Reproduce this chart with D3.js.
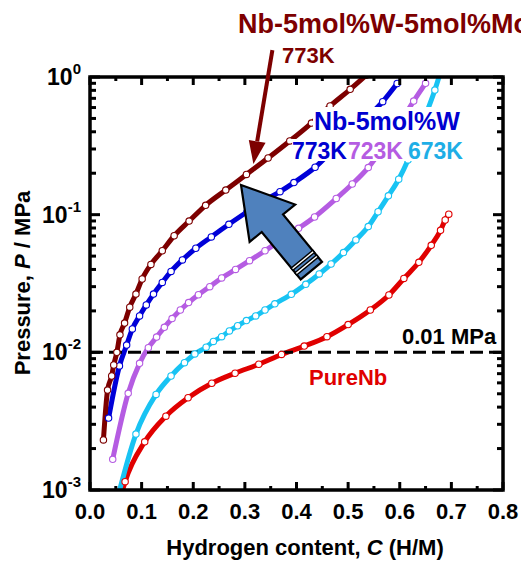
<!DOCTYPE html>
<html><head><meta charset="utf-8">
<script src="https://cdn.jsdelivr.net/npm/d3@7"></script>
<style>body{margin:0;background:#fff}svg{display:block}</style>
</head><body><svg id="chart" width="521" height="561"></svg>
<script>
// ---------- data ----------
const xTickValues = [0, 0.1, 0.2, 0.3, 0.4, 0.5, 0.6, 0.7, 0.8];
const xTickLabels = ["0.0", "0.1", "0.2", "0.3", "0.4", "0.5", "0.6", "0.7", "0.8"];
const yTickValues = [0.001, 0.01, 0.1, 1];
const yTickExponents = ["-3", "-2", "-1", "0"];

// Nb-5mol%W-5mol%Mo, 773K
const nbWMo773C = [0.026, 0.034, 0.042, 0.046, 0.052, 0.058, 0.067, 0.077, 0.089, 0.101, 0.118, 0.140, 0.163, 0.192, 0.224, 0.263, 0.303, 0.345, 0.387, 0.429, 0.465, 0.504, 0.535];
const nbWMo773P = [0.00231, 0.00532, 0.00673, 0.00809, 0.0100, 0.0134, 0.0163, 0.0213, 0.0265, 0.0341, 0.0435, 0.0547, 0.0703, 0.0899, 0.117, 0.151, 0.196, 0.258, 0.343, 0.463, 0.616, 0.814, 1.03];
// Nb-5mol%W, 773K
const nbW773C = [0.036, 0.057, 0.071, 0.082, 0.096, 0.109, 0.123, 0.140, 0.157, 0.179, 0.205, 0.235, 0.269, 0.304, 0.337, 0.368, 0.395, 0.436, 0.478, 0.523, 0.567, 0.595];
const nbW773P = [0.00333, 0.00796, 0.0113, 0.0148, 0.0184, 0.0221, 0.0265, 0.0322, 0.0387, 0.0469, 0.0570, 0.0689, 0.0851, 0.1045, 0.126, 0.147, 0.171, 0.221, 0.315, 0.456, 0.662, 0.897];
// Nb-5mol%W, 723K
const nbW723C = [0.044, 0.074, 0.096, 0.113, 0.129, 0.144, 0.159, 0.175, 0.191, 0.210, 0.232, 0.255, 0.282, 0.309, 0.339, 0.370, 0.404, 0.435, 0.477, 0.508, 0.539, 0.570, 0.599, 0.627, 0.650];
const nbW723P = [0.00167, 0.00504, 0.00832, 0.0108, 0.0129, 0.0152, 0.0176, 0.0203, 0.0230, 0.0262, 0.0300, 0.0347, 0.0400, 0.0463, 0.0547, 0.0655, 0.0796, 0.0962, 0.131, 0.167, 0.220, 0.315, 0.456, 0.669, 0.900];
// Nb-5mol%W, 673K
const nbW673C = [0.050, 0.089, 0.128, 0.157, 0.183, 0.203, 0.225, 0.239, 0.255, 0.270, 0.286, 0.303, 0.321, 0.339, 0.358, 0.390, 0.418, 0.444, 0.467, 0.491, 0.515, 0.539, 0.558, 0.578, 0.598, 0.616, 0.633, 0.651, 0.668, 0.680];
const nbW673P = [0.00078, 0.00255, 0.00495, 0.00673, 0.00841, 0.00973, 0.0109, 0.0120, 0.0130, 0.0143, 0.0156, 0.0170, 0.0184, 0.0203, 0.0225, 0.0264, 0.0312, 0.0371, 0.0438, 0.0530, 0.0655, 0.0820, 0.105, 0.137, 0.181, 0.250, 0.360, 0.538, 0.804, 1.12];
// Pure Nb
const pureNbC = [0.058, 0.068, 0.106, 0.147, 0.190, 0.236, 0.281, 0.327, 0.371, 0.415, 0.459, 0.500, 0.543, 0.579, 0.608, 0.637, 0.661, 0.679, 0.688, 0.695];
const pureNbP = [0.00085, 0.00115, 0.00224, 0.00344, 0.00468, 0.00596, 0.00705, 0.00819, 0.00965, 0.0111, 0.0130, 0.0159, 0.0203, 0.0261, 0.0344, 0.0451, 0.0599, 0.0770, 0.0915, 0.1008];

const seriesColors = ["#e00000", "#18c3f3", "#b55ce2", "#0000d8", "#7d0000"];
const series = [
  {c: pureNbC, p: pureNbP, color: seriesColors[0]},
  {c: nbW673C, p: nbW673P, color: seriesColors[1]},
  {c: nbW723C, p: nbW723P, color: seriesColors[2]},
  {c: nbW773C, p: nbW773P, color: seriesColors[3]},
  {c: nbWMo773C, p: nbWMo773P, color: seriesColors[4]}
];
const refPressure = 0.01;

// ---------- chart ----------
const font = "'Liberation Sans', Arial, Helvetica, sans-serif";
const svg = d3.select("#chart").style("font-family", font);
const L = 90, R = 503, T = 77, B = 490;
const x = d3.scaleLinear().domain([0, 0.8]).range([L, R]);
const y = d3.scaleLog().domain([0.001, 1]).range([B, T]);

svg.append("defs").append("clipPath").attr("id", "plotclip")
  .append("rect").attr("x", L).attr("y", T).attr("width", R - L).attr("height", B - T);

const plot = svg.append("g").attr("clip-path", "url(#plotclip)");

const line = d3.line().x(d => x(d[0])).y(d => y(d[1])).curve(d3.curveMonotoneX);

// curve lines
series.forEach(s => {
  const pts = s.c.map((c, i) => [c, s.p[i]]);
  plot.append("path").datum(pts).attr("d", line)
    .attr("fill", "none").attr("stroke", s.color).attr("stroke-width", 5)
    .attr("stroke-linejoin", "round").attr("stroke-linecap", "round");
});

// reference dashed line
plot.append("line").attr("x1", L).attr("x2", R).attr("y1", y(refPressure)).attr("y2", y(refPressure))
  .attr("stroke", "#000").attr("stroke-width", 3).attr("stroke-dasharray", "13,6");

// markers
series.forEach(s => {
  plot.append("g").selectAll("circle").data(s.c.map((c, i) => [c, s.p[i]])).join("circle")
    .attr("cx", d => x(d[0])).attr("cy", d => y(d[1])).attr("r", 3.2)
    .attr("fill", "#fff").attr("stroke", s.color).attr("stroke-width", 1.1);
});

// white label backgrounds
svg.append("rect").attr("x", 313).attr("y", 107).attr("width", 151).attr("height", 36).attr("fill", "#fff");
svg.append("rect").attr("x", 292).attr("y", 139).attr("width", 172).attr("height", 22).attr("fill", "#fff");

// ticks
const tickG = svg.append("g").attr("stroke", "#000").attr("stroke-width", 3);
const xMinor = d3.range(0.05, 0.8, 0.1);
xTickValues.forEach(v => {
  tickG.append("line").attr("x1", x(v)).attr("x2", x(v)).attr("y1", B).attr("y2", B - 8);
  tickG.append("line").attr("x1", x(v)).attr("x2", x(v)).attr("y1", T).attr("y2", T + 8);
});
xMinor.forEach(v => {
  tickG.append("line").attr("x1", x(v)).attr("x2", x(v)).attr("y1", B).attr("y2", B - 4);
  tickG.append("line").attr("x1", x(v)).attr("x2", x(v)).attr("y1", T).attr("y2", T + 4);
});
yTickValues.forEach(v => {
  tickG.append("line").attr("x1", L).attr("x2", L + 10).attr("y1", y(v)).attr("y2", y(v));
  tickG.append("line").attr("x1", R).attr("x2", R - 10).attr("y1", y(v)).attr("y2", y(v));
});
[0.001, 0.01, 0.1].forEach(dec => {
  for (let k = 2; k <= 9; k++) {
    const v = dec * k;
    tickG.append("line").attr("x1", L).attr("x2", L + 6).attr("y1", y(v)).attr("y2", y(v));
    tickG.append("line").attr("x1", R).attr("x2", R - 6).attr("y1", y(v)).attr("y2", y(v));
  }
});

// frame
svg.append("rect").attr("x", L).attr("y", T).attr("width", R - L).attr("height", B - T)
  .attr("fill", "none").attr("stroke", "#000").attr("stroke-width", 3.5);

// tick labels
svg.append("g").selectAll("text").data(xTickValues).join("text")
  .attr("x", d => x(d)).attr("y", 519).attr("text-anchor", "middle")
  .attr("font-size", 22).attr("font-weight", "bold").text((d, i) => xTickLabels[i]);

yTickValues.forEach((v, i) => {
  const t = svg.append("text").attr("x", 81).attr("y", y(v) + 8).attr("text-anchor", "end")
    .attr("font-size", 23).attr("font-weight", "bold");
  t.append("tspan").text("10");
  t.append("tspan").attr("dy", -11).attr("font-size", 15).text(yTickExponents[i]);
});

// axis titles
const xt = svg.append("text").attr("x", 305).attr("y", 555).attr("text-anchor", "middle")
  .attr("font-size", 22).attr("font-weight", "bold");
xt.append("tspan").text("Hydrogen content, ");
xt.append("tspan").attr("font-style", "italic").text("C");
xt.append("tspan").text(" (H/M)");

const yt = svg.append("text").attr("transform", "translate(30,283) rotate(-90)").attr("text-anchor", "middle")
  .attr("font-size", 22).attr("font-weight", "bold");
yt.append("tspan").text("Pressure, ");
yt.append("tspan").attr("font-style", "italic").text("P");
yt.append("tspan").text(" / MPa");

// labels
function label(txt, xx, yy, size, color) {
  svg.append("text").attr("x", xx).attr("y", yy).attr("font-size", size)
    .attr("font-weight", "bold").attr("fill", color).text(txt);
}
label("Nb-5mol%W-5mol%Mo", 238, 33, 27, "#7d0000");
label("773K", 282, 62.5, 22, "#7d0000");
label("Nb-5mol%W", 314, 130, 25, "#0000d0");
label("773K", 292, 159, 23, "#0000d0");
label("723K", 348, 159, 23, "#b55ce2");
label("673K", 408, 159, 23, "#1eaee6");
label("0.01 MPa", 402, 343.5, 22, "#000");
label("PureNb", 309, 384.5, 22, "#e00000");

// dark red pointer arrow (pixel offsets from data-anchored tip)
const redTip = [x(0.3165), y(0.233)];
const redStart = [redTip[0] + 19, redTip[1] - 114];
const ang = Math.atan2(redTip[1] - redStart[1], redTip[0] - redStart[0]);
const headLen = 23, headHalf = 8.5;
const baseP = [redTip[0] - headLen * Math.cos(ang), redTip[1] - headLen * Math.sin(ang)];
svg.append("line").attr("x1", redStart[0]).attr("y1", redStart[1]).attr("x2", baseP[0]).attr("y2", baseP[1])
  .attr("stroke", "#7d0000").attr("stroke-width", 4);
const px = -Math.sin(ang), py = Math.cos(ang);
svg.append("path").attr("d", `M${redTip[0]},${redTip[1]} L${baseP[0] + px * headHalf},${baseP[1] + py * headHalf} L${baseP[0] - px * headHalf},${baseP[1] - py * headHalf} Z`)
  .attr("fill", "#7d0000");

// big blue arrow, tip anchored in data space, shape in pixels
const tip = [x(0.2925), y(0.1642)];
const u = [0.634, 0.772], v = [0.772, -0.634];
const P = (a, b) => [tip[0] + a * u[0] + b * v[0], tip[1] + a * u[1] + b * v[1]];
const headL = 49.5, headW = 29.5, shaftW = 13.8, len = 111;
const poly = [P(0, 0), P(headL, headW), P(headL, shaftW), P(len, shaftW), P(len, -shaftW), P(headL, -shaftW), P(headL, -headW)];
svg.append("path").attr("d", "M" + poly.map(p => p.join(",")).join("L") + "Z")
  .attr("fill", "#4f81bd").attr("stroke", "#000").attr("stroke-width", 2.2).attr("stroke-linejoin", "miter");
[97.5, 103.5].forEach(a => {
  const p1 = P(a, shaftW + 1), p2 = P(a, -shaftW - 1);
  svg.append("line").attr("x1", p1[0]).attr("y1", p1[1]).attr("x2", p2[0]).attr("y2", p2[1])
    .attr("stroke", "#000").attr("stroke-width", 4.2);
  const q1 = P(a, shaftW - 0.5), q2 = P(a, -shaftW + 0.5);
  svg.append("line").attr("x1", q1[0]).attr("y1", q1[1]).attr("x2", q2[0]).attr("y2", q2[1])
    .attr("stroke", "#fff").attr("stroke-width", 1.4);
});
</script>
</body></html>
